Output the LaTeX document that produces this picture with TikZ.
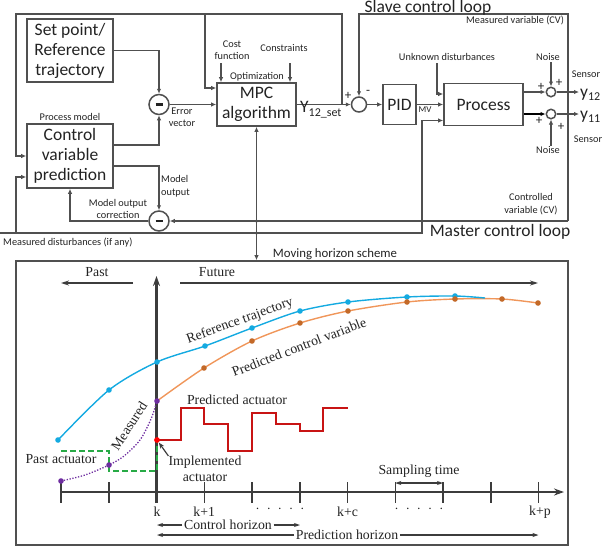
\documentclass[tikz,border=0pt]{standalone}
\usepackage{fontspec}
\setmainfont{Liberation Serif}
\newfontfamily\carl{Carlito}
\usetikzlibrary{arrows.meta,calc}
\definecolor{lc}{RGB}{80,80,80}
\definecolor{ac}{RGB}{60,60,60}
\definecolor{tc}{RGB}{35,35,35}
\definecolor{refblue}{RGB}{20,170,225}
\definecolor{orline}{RGB}{240,150,90}
\definecolor{ordot}{RGB}{195,105,40}
\definecolor{purp}{RGB}{110,45,160}
\definecolor{grn}{RGB}{40,170,70}
\definecolor{redc}{RGB}{200,20,20}
\newcommand\bigsans{\carl\fontsize{17.5}{20}\selectfont}
\newcommand\midsans{\carl\fontsize{13}{15}\selectfont}
\newcommand\mhsans{\carl\fontsize{12.8}{15}\selectfont}
\newcommand\smallsans{\carl\fontsize{10.3}{12.5}\selectfont}
\newcommand\sertext{\fontsize{13.8}{16}\selectfont}
\begin{document}
\begin{tikzpicture}[x=1pt,y=-1pt,
  blk/.style={draw=lc,line width=1.6pt,text=tc,font=\bigsans,align=center,inner sep=0pt},
  sumc/.style={circle,draw=lc,line width=1.5pt,fill=white,inner sep=0pt},
  conn/.style={draw=lc,line width=1.4pt},
  arr/.style={conn,-{Latex[length=5pt,width=4.5pt]}},
  lbl/.style={font=\smallsans,text=tc,align=center,inner sep=0pt},
  sgn/.style={font=\midsans,text=tc,inner sep=0pt},
  jdot/.style={circle,fill=lc,inner sep=0pt,minimum size=3.5pt},
  sl/.style={font=\sertext,text=tc,inner sep=0pt,align=center},
  axisln/.style={draw=ac,line width=2.2pt,-{Stealth[length=10pt,width=7pt]}},
  tickln/.style={draw=ac,line width=1.5pt},
  hzarr/.style={draw=ac,line width=1.1pt,-{Stealth[length=6pt,width=4pt]}},
  pfarr/.style={draw=ac,line width=1.3pt,-{Stealth[length=8pt,width=5pt]}}
]
\useasboundingbox (0,0) rectangle (602,547);

% ---------- upper block diagram ----------
\node[blk,minimum width=86pt,minimum height=63pt] (sp) at (70,50.5) {Set point/\\Reference\\trajectory};
\node[blk,minimum width=86pt,minimum height=64pt] (cvp) at (70,156) {Control\\variable\\prediction};
\node[blk,minimum width=79pt,minimum height=43pt] (mpc) at (256.5,104.5) {MPC\\algorithm};
\node[blk,minimum width=33pt,minimum height=40pt] (pid) at (399.5,104.5) {PID};
\node[blk,minimum width=79pt,minimum height=42pt] (proc) at (483.5,104.5) {Process};

\node[sumc,minimum size=20pt] (c1) at (159,104.5) {\textcolor{tc}{\rule{7pt}{2.6pt}}};
\node[sumc,minimum size=20pt] (c2) at (159,221) {\textcolor{tc}{\rule{7pt}{2.6pt}}};
\node[sumc,minimum size=15pt] (c3) at (359,104.5) {};
\node[sumc,minimum size=9.5pt] (c4) at (551,92) {};
\node[sumc,minimum size=9.5pt] (c5) at (551,114) {};

\coordinate (cvr) at (568,221);
\coordinate (trc) at (568,14);
\coordinate (j1) at (342,104.5);
\coordinate (tlc) at (16,14);
\coordinate (tb) at (205,14);
\coordinate (md0) at (0,233);
\coordinate (md1) at (422,233);
\coordinate (md2) at (16,233);
\coordinate (ud) at (437,63);
\coordinate (o12) at (579,92);
\coordinate (o11) at (579,114);
\coordinate (n1) at (551,62);
\coordinate (n2) at (551,146);
\coordinate (cf) at (221,63);
\coordinate (cs) at (290,63);

\draw[arr] (sp.east) -| (c1.north);
\draw[arr] ([yshift=11pt]cvp.east) -| (c1.south);
\draw[arr] (c1.east) -- (mpc.west);
\draw[arr] ([yshift=-10pt]cvp.east) -| (c2.north);
\draw[arr] (c2.west) -| (cvp.south);
\draw[arr] (cvr) -- (c2.east);
\draw[arr] (cvr) -- (trc) -| (c3.north);
\draw[arr] (mpc.east) -- (c3.west);
\draw[arr] (j1) |- (tlc) |- (cvp.west);
\draw[arr] (tb) |- ([yshift=16.5pt]mpc.west);
\draw[arr] (md0) -- (md1) |- ([yshift=-16pt]proc.west);
\draw[arr] (md2) |- ([yshift=-21pt]cvp.west);
\draw[arr] (c3.east) -- (pid.west);
\draw[arr] (pid.east) -- (proc.west);
\draw[arr] (ud) |- ([yshift=10.5pt]proc.west);
\draw[arr] ([yshift=12.5pt]proc.east) -- (c4.west);
\draw[arr,draw=black,line width=1.8pt] ([yshift=-9.5pt]proc.east) -- (c5.west);
\draw[arr] (c4.east) -- (o12);
\draw[arr] (c5.east) -- (o11);
\draw[arr] (n1) -- (c4.north);
\draw[arr] (n2) -- (c5.south);
\draw[arr] (cf) -- (cf |- mpc.north);
\draw[arr] (cs) -- (cs |- mpc.north);

% lower frame and link
\node[draw=lc,line width=1.6pt,minimum width=552pt,minimum height=284pt,inner sep=0pt] (mh) at (292,403) {};
\draw[conn,{Latex[length=5pt,width=4.5pt]}-{Latex[length=5pt,width=4.5pt]}] (mpc.south) -- (mpc.south |- mh.north);
\node[jdot] (d1) at (256.5,221) {};
\node[jdot] (d2) at (256.5,233) {};
\node[jdot] (d3) at (422,221) {};

% labels upper
\node[lbl] (lpm) at (70,117) {Process model};
\node[lbl] (lcf) at (232,50) {Cost\\function};
\node[lbl] (lcs) at (284,48) {Constraints};
\node[lbl] (lopt) at (257,77) {Optimization};
\node[lbl] (lev) at (182,117) {Error\\vector};
\node[lbl,align=left,anchor=west] (lmo) at (161,186) {Model\\output};
\node[lbl] (lmoc) at (118,209) {Model output\\correction};
\node[lbl,anchor=west] (lmd) at (3,243) {Measured disturbances (if any)};
\node[lbl] (lcv) at (531,204) {Controlled\\variable (CV)};
\node[lbl] (lmv) at (515,20) {Measured variable (CV)};
\node[lbl] (lud) at (447,57) {Unknown disturbances};
\node[lbl] (lnz1) at (548,57) {Noise};
\node[lbl] (lnz2) at (548,150) {Noise};
\node[lbl] (lsen1) at (586,74) {Sensor};
\node[lbl] (lsen2) at (588,139) {Sensor};
\node[lbl,font=\carl\fontsize{9}{10}\selectfont] (lmvl) at (425,110) {MV};
\node[font=\bigsans,text=tc,anchor=base,inner sep=0pt] (lslave) at (428,12.8) {Slave control loop};
\node[font=\bigsans,text=tc,anchor=base,inner sep=0pt] (lmaster) at (500,236) {Master control loop};
\node[font=\mhsans,text=tc,inner sep=0pt] (lmhs) at (335,254) {Moving horizon scheme};
\node[anchor=base west,text=tc,inner sep=0pt] (ly) at (300,112) {\bigsans Y\raisebox{-4.5pt}{\carl\fontsize{12}{12}\selectfont 12\_set}};
\node[anchor=base west,text=tc,inner sep=0pt] (ly12) at (580,97.5) {\bigsans y\raisebox{-2.5pt}{\carl\fontsize{12}{12}\selectfont 12}};
\node[anchor=base west,text=tc,inner sep=0pt] (ly11) at (580,119.5) {\bigsans y\raisebox{-2.5pt}{\carl\fontsize{12}{12}\selectfont 11}};
\node[sgn] (p1) at (348,96) {+};
\node[sgn] (m1) at (368,92) {-};
\node[sgn] (p2) at (541,87) {+};
\node[sgn] (p3) at (559,83) {+};
\node[sgn] (p4) at (539,121) {+};
\node[sgn] (p5) at (561,127) {+};

% ---------- lower moving horizon chart ----------
\node[sl] (lpast) at (97,272) {Past};
\node[sl] (lfut) at (217,272) {Future};
\coordinate (pa0) at (133,283);
\coordinate (pa1) at (61,283);
\coordinate (fu0) at (180,283);
\coordinate (fu1) at (538,283);
\draw[pfarr] (pa0) -- (pa1);
\draw[pfarr] (fu0) -- (fu1);

\foreach \i in {0,1,3,4,5,6,7,8,9,10} \draw[tickln] (61+47.75*\i,482) -- (61+47.75*\i,503);
\coordinate (yb) at (156.5,503);
\coordinate (yt) at (156.5,276);
\coordinate (xa0) at (61,492);
\coordinate (xa1) at (564,492);
\draw[axisln] (yb) -- (yt);
\draw[axisln] (xa0) -- (xa1);

\node[sl] (lk) at (157,512) {k};
\node[sl] (lk1) at (204.25,512) {k+1};
\node[sl] (ld1) at (280,509) {$\cdot\;\cdot\;\cdot\;\cdot\;\cdot$};
\node[sl] (lkc) at (347.5,512) {k+c};
\node[sl] (ld2) at (419,509) {$\cdot\;\cdot\;\cdot\;\cdot\;\cdot$};
\node[sl] (lkp) at (540,512) {k+p};

\node[sl] (lst) at (419,471) {Sampling time};
\coordinate (st0) at (395.25,483);
\coordinate (st1) at (443,483);
\draw[hzarr,{Stealth[length=6pt,width=4pt]}-{Stealth[length=6pt,width=4pt]}] (st0) -- (st1);

\node[sl,inner xsep=1.5pt] (lch) at (228,525) {Control horizon};
\coordinate (ch0) at (157,525);
\coordinate (ch1) at (300,525);
\draw[hzarr] (lch.west) -- (ch0);
\draw[hzarr] (lch.east) -- (ch1);
\node[sl,inner xsep=1.5pt] (lph) at (347,535) {Prediction horizon};
\coordinate (ph0) at (157,535);
\coordinate (ph1) at (538.5,535);
\draw[hzarr] (lph.west) -- (ph0);
\draw[hzarr] (lph.east) -- (ph1);

% curves
\draw[orline,line width=1.4pt] plot[smooth] coordinates {(157,401) (204,368) (252,341) (300,323) (348,311) (407,302) (455,299) (502,299) (538,303)};
\draw[refblue,line width=1.4pt] plot[smooth] coordinates {(58,440) (109,390) (157,362) (205,346) (252,328) (300,311) (348,302) (407,297) (455,296) (485,298)};
\draw[purp,line width=1.3pt,dash pattern=on 1.3pt off 1.6pt] plot[smooth] coordinates {(61,481) (85,475) (109,465) (124,456) (140,440) (151,419) (157,401)};
\draw[grn,line width=1.4pt,dash pattern=on 6pt off 3pt] (61,451) -| (109,471) -| (157,440);
\draw[redc,line width=1.4pt] (157,440) -- (181,440) -- (181,408) -- (204,408) -- (204,424) -- (228,424) -- (228,451) -- (252,451) -- (252,413) -- (276,413) -- (276,424) -- (300,424) -- (300,431) -- (323,431) -- (323,408) -- (348,408);

\foreach \p in {(58,440),(109,390),(157,362),(205,346),(252,328),(300,311),(348,302),(407,297),(455,296)} \fill[refblue] \p circle (2.8pt);
\foreach \p in {(204,368),(252,341),(300,323),(348,311),(407,302),(455,299),(502,299),(538,303)} \fill[ordot] \p circle (2.8pt);
\foreach \p in {(61,481),(109,465),(157,401)} \fill[purp] \p circle (2.8pt);
\node[circle,fill=red,inner sep=0pt,minimum size=5.8pt] (rd) at (157,440) {};

\node[sl,rotate=20] (lrt) at (240,321) {Reference trajectory};
\node[sl,rotate=21] (lpcv) at (299,347) {Predicted control variable};
\node[sl] (lpa) at (237,400) {Predicted actuator};
\node[sl,rotate=57] (lmeas) at (129,426) {Measured};
\node[sl] (lpact) at (61,459) {Past actuator};
\node[sl] (limp) at (205,469) {Implemented\\actuator};
\draw[draw=ac,line width=1.2pt,-{Stealth[length=6pt,width=4.5pt]}] (limp.north west) -- (rd);
\end{tikzpicture}
\end{document}
